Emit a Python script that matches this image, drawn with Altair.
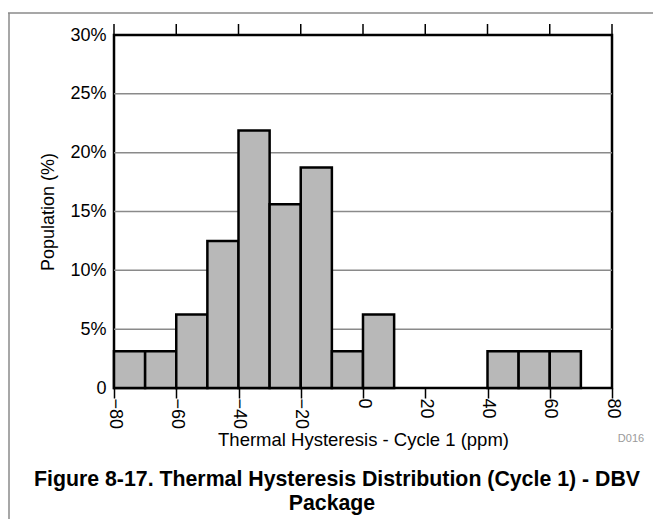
import altair as alt
import pandas as pd

# ---- data ----
bin_start = [-80, -70, -60, -50, -40, -30, -20, -10, 0, 40, 50, 60]
bin_end = [-70, -60, -50, -40, -30, -20, -10, 0, 10, 50, 60, 70]
population_pct = [3.125, 3.125, 6.25, 12.5, 21.875, 15.625, 18.75, 3.125, 6.25, 3.125, 3.125, 3.125]

x_tick_values = [-80, -60, -40, -20, 0, 20, 40, 60, 80]
y_tick_values = [0, 5, 10, 15, 20, 25, 30]
grid_levels = [5, 10, 15, 20, 25]

x_title = "Thermal Hysteresis - Cycle 1 (ppm)"
y_title = "Population (%)"
caption_lines = ["Figure 8-17. Thermal Hysteresis Distribution (Cycle 1) - DBV", "Package"]
figure_code = ["D016"]

# ---- layout / style ----
W, H = 498, 353
PAD = {"left": 106, "top": 27, "right": 41, "bottom": 131}
FONT = "Liberation Sans"

xs = alt.Scale(domain=[-80, 80], nice=False, zero=False)
ys = alt.Scale(domain=[0, 30], nice=False)

x_axis = alt.Axis(
    values=x_tick_values, title=x_title, labelAngle=90,
    labelAlign="left", labelBaseline="middle", labelPadding=0,
    tickSize=10, tickWidth=1.5, tickColor="black",
    domain=False, grid=False, labelFontSize=18, titleFontSize=18.5,
    titleFontWeight="normal", titlePadding=2,
    labelColor="black", titleColor="black",
    labelFont=FONT, titleFont=FONT,
)
y_axis = alt.Axis(
    values=y_tick_values, title=y_title,
    labelExpr="datum.value == 0 ? '0' : datum.value + '%'",
    tickSize=0, ticks=False, domain=False, grid=False, labelPadding=8,
    labelFontSize=18, titleFontSize=18, titleFontWeight="normal",
    titlePadding=12, labelColor="black", titleColor="black",
    labelFont=FONT, titleFont=FONT,
)

bars_df = pd.DataFrame({"x0": bin_start, "x1": bin_end, "pop": population_pct})

grid = alt.Chart(pd.DataFrame({"g": grid_levels})).mark_rule(
    color="#8a8a8a", strokeWidth=1.5
).encode(y=alt.Y("g:Q", scale=ys, axis=y_axis))

bars = alt.Chart(bars_df).mark_rect(
    fill="#b8b8b8", stroke="black", strokeWidth=2.5
).encode(
    x=alt.X("x0:Q", scale=xs, axis=x_axis),
    x2="x1:Q",
    y=alt.Y("pop:Q", scale=ys, axis=y_axis),
    y2=alt.datum(0),
)

top_ticks = alt.Chart(pd.DataFrame({"t": x_tick_values})).mark_rule(
    color="black", strokeWidth=1.5
).encode(
    x=alt.X("t:Q", scale=xs, axis=x_axis),
    y=alt.value(-11),
    y2=alt.value(0),
)

frame_df = pd.DataFrame({"k": [0]})
frame_top = alt.Chart(frame_df).mark_rule(color="#8a8a8a", strokeWidth=1.5).encode(
    x=alt.value(-PAD["left"]), x2=alt.value(W + PAD["right"]), y=alt.value(-22)
)
frame_left = alt.Chart(frame_df).mark_rule(color="#8a8a8a", strokeWidth=1.5).encode(
    x=alt.value(-PAD["left"] + 1), y=alt.value(-22), y2=alt.value(H + PAD["bottom"])
)

code_txt = alt.Chart(pd.DataFrame({"t": figure_code})).mark_text(
    font=FONT, fontSize=11, color="#9a9a9a", align="center", baseline="alphabetic"
).encode(text="t:N", x=alt.value(517), y=alt.value(407))

cap1 = alt.Chart(pd.DataFrame({"t": [caption_lines[0]]})).mark_text(
    font=FONT, fontSize=21.3, fontWeight="bold", color="black", align="center",
    baseline="alphabetic"
).encode(text="t:N", x=alt.value(223), y=alt.value(451))

cap2 = alt.Chart(pd.DataFrame({"t": [caption_lines[1]]})).mark_text(
    font=FONT, fontSize=21.3, fontWeight="bold", color="black", align="center",
    baseline="alphabetic"
).encode(text="t:N", x=alt.value(218), y=alt.value(475))

chart = alt.layer(
    grid, bars, top_ticks, frame_top, frame_left, code_txt, cap1, cap2
).properties(
    width=W, height=H, padding=PAD,
    autosize=alt.AutoSizeParams(type="none"),
).configure(font=FONT).configure_view(stroke="black", strokeWidth=2.5)

chart.save("out.html", embed_options={"renderer": "svg", "actions": False})
